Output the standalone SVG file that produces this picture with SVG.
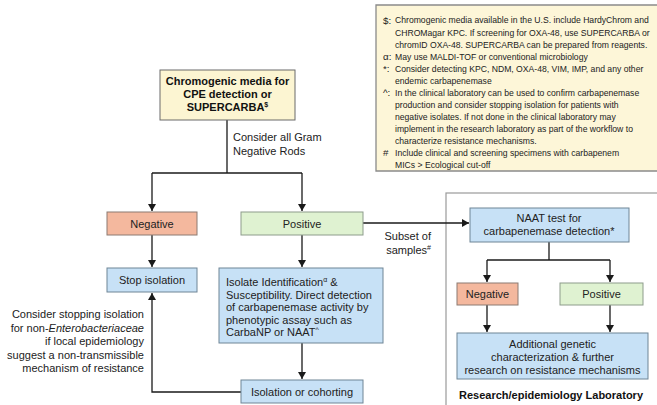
<svg xmlns="http://www.w3.org/2000/svg" width="657" height="405" viewBox="0 0 657 405">
<defs>
<style>
.t{font-family:"Liberation Sans",Arial,sans-serif;font-size:11px;fill:#222}
.b{font-family:"Liberation Sans",Arial,sans-serif;font-size:11px;font-weight:bold;fill:#111}
.fn{font-family:"Liberation Sans",Arial,sans-serif;font-size:9.8px;fill:#222}
.c{text-anchor:middle}
.r{text-anchor:end}
.yel{fill:#fcf5d2;stroke:#6b6b6b;stroke-width:1}
.neg{fill:#f4b89e;stroke:#8c7b72;stroke-width:1}
.pos{fill:#dff2d1;stroke:#8d9c8b;stroke-width:1}
.blu{fill:#c7e1f6;stroke:#6f8596;stroke-width:1}
.ln{fill:none;stroke:#1a1a1a;stroke-width:1.3}
.sup{font-size:7px}
</style>
<marker id="ah" markerWidth="7" markerHeight="8" refX="7" refY="4" orient="auto" markerUnits="userSpaceOnUse">
<path d="M0,0 L7,4 L0,8 Z" fill="#1a1a1a"/>
</marker>
</defs>
<rect width="657" height="405" fill="#ffffff"/>

<g id="footnotes">
<rect x="376" y="5" width="281" height="166" fill="#fdf6d8"/>
<path d="M657,5 H376 V171 H657" fill="none" stroke="#8a8a8a" stroke-width="1.3"/>
<text class="fn" x="383" y="23.5">$:</text>
<text class="fn" x="383" y="59.7">α:</text>
<text class="fn" x="383" y="71.8">*:</text>
<text class="fn" x="383" y="96">^:</text>
<text class="fn" x="383" y="156.4">#</text>
<g transform="translate(395 0) scale(0.88 1)">
<text class="fn" x="0" y="23.5">Chromogenic media available in the U.S. include HardyChrom and</text>
<text class="fn" x="0" y="35.6">CHROMagar KPC. If screening for OXA-48, use SUPERCARBA or</text>
<text class="fn" x="0" y="47.7">chromID OXA-48. SUPERCARBA can be prepared from reagents.</text>
<text class="fn" x="0" y="59.7">May use MALDI-TOF or conventional microbiology</text>
<text class="fn" x="0" y="71.8">Consider detecting KPC, NDM, OXA-48, VIM, IMP, and any other</text>
<text class="fn" x="0" y="83.9">endemic carbapenemase</text>
<text class="fn" x="0" y="96">In the clinical laboratory can be used to confirm carbapenemase</text>
<text class="fn" x="0" y="108.1">production and consider stopping isolation for patients with</text>
<text class="fn" x="0" y="120.1">negative isolates. If not done in the clinical laboratory may</text>
<text class="fn" x="0" y="132.2">implement in the research laboratory as part of the workflow to</text>
<text class="fn" x="0" y="144.3">characterize resistance mechanisms.</text>
<text class="fn" x="0" y="156.4">Include clinical and screening specimens with carbapenem</text>
<text class="fn" x="0" y="168.5">MICs &gt; Ecological cut-off</text>
</g>
</g>

<g id="research-lab">
<rect x="446" y="193" width="220" height="220" fill="#ffffff" stroke="#9a9a9a" stroke-width="1.2"/>
<text class="b c" x="551" y="399">Research/epidemiology Laboratory</text>
</g>

<g id="connectors">
<path class="ln" d="M227,120 V173"/>
<path class="ln" d="M152,173 H302"/>
<path class="ln" d="M152,173 V211" marker-end="url(#ah)"/>
<path class="ln" d="M302,173 V211" marker-end="url(#ah)"/>
<path class="ln" d="M152,235 V267" marker-end="url(#ah)"/>
<path class="ln" d="M302,235 V267" marker-end="url(#ah)"/>
<path class="ln" d="M302,343 V379" marker-end="url(#ah)"/>
<path class="ln" d="M241,392 H152 V293" marker-end="url(#ah)"/>
<path class="ln" d="M363,223 H469" marker-end="url(#ah)"/>
<path class="ln" d="M549,242 V260"/>
<path class="ln" d="M487,260 H610"/>
<path class="ln" d="M487,260 V282" marker-end="url(#ah)"/>
<path class="ln" d="M610,260 V282" marker-end="url(#ah)"/>
<path class="ln" d="M487,305 V332" marker-end="url(#ah)"/>
<path class="ln" d="M610,305 V332" marker-end="url(#ah)"/>
</g>

<g id="label-gram">
<text class="t" x="233" y="141">Consider all Gram</text>
<text class="t" x="233" y="155">Negative Rods</text>
</g>
<g id="label-subset">
<text class="t r" x="431" y="240">Subset of</text>
<text class="t r" x="431" y="254">samples<tspan class="sup" dy="-4">#</tspan></text>
</g>
<g id="label-stop">
<text class="t r" x="144" y="318">Consider stopping isolation</text>
<text class="t r" x="144" y="331.5">for non-<tspan font-style="italic">Enterobacteriaceae</tspan></text>
<text class="t r" x="144" y="345">if local epidemiology</text>
<text class="t r" x="144" y="358.5">suggest a non-transmissible</text>
<text class="t r" x="144" y="372">mechanism of resistance</text>
</g>

<g id="chromogenic">
<rect class="yel" x="160" y="70" width="135" height="50"/>
<text class="b c" x="227.5" y="85">Chromogenic media for</text>
<text class="b c" x="227.5" y="98">CPE detection or</text>
<text class="b c" x="227.5" y="111">SUPERCARBA<tspan class="sup" dy="-4">$</tspan></text>
</g>

<g id="negative-1">
<rect class="neg" x="107" y="212" width="90" height="23"/>
<text class="t c" x="152" y="227.5">Negative</text>
</g>
<g id="positive-1">
<rect class="pos" x="241" y="212" width="122" height="23"/>
<text class="t c" x="302" y="227.5">Positive</text>
</g>
<g id="stop-isolation">
<rect class="blu" x="107" y="268" width="90" height="24"/>
<text class="t c" x="152" y="284">Stop isolation</text>
</g>
<g id="isolate-id">
<rect class="blu" x="219" y="268" width="164" height="75"/>
<text class="t" x="226" y="286">Isolate Identification<tspan class="sup" dy="-4">α</tspan><tspan dy="4"> &amp;</tspan></text>
<text class="t" x="226" y="298.5">Susceptibility. Direct detection</text>
<text class="t" x="226" y="311">of carbapenemase activity by</text>
<text class="t" x="226" y="323.5">phenotypic assay such as</text>
<text class="t" x="226" y="336">CarbaNP or NAAT<tspan class="sup" dy="-4">^</tspan></text>
</g>
<g id="isolation-cohorting">
<rect class="blu" x="241" y="380" width="122" height="23"/>
<text class="t c" x="302" y="395.5">Isolation or cohorting</text>
</g>

<g id="naat">
<rect class="blu" x="470" y="208" width="159" height="34"/>
<text class="t c" x="549" y="221.5">NAAT test for</text>
<text class="t c" x="549" y="235">carbapenemase detection*</text>
</g>
<g id="negative-2">
<rect class="neg" x="457" y="283" width="61" height="22"/>
<text class="t c" x="487.5" y="298">Negative</text>
</g>
<g id="positive-2">
<rect class="pos" x="560" y="283" width="83" height="22"/>
<text class="t c" x="601.5" y="298">Positive</text>
</g>
<g id="additional">
<rect class="blu" x="457" y="333" width="191" height="46"/>
<text class="t c" x="552.5" y="348">Additional genetic</text>
<text class="t c" x="552.5" y="361">characterization &amp; further</text>
<text class="t c" x="552.5" y="374">research on resistance mechanisms</text>
</g>
</svg>
